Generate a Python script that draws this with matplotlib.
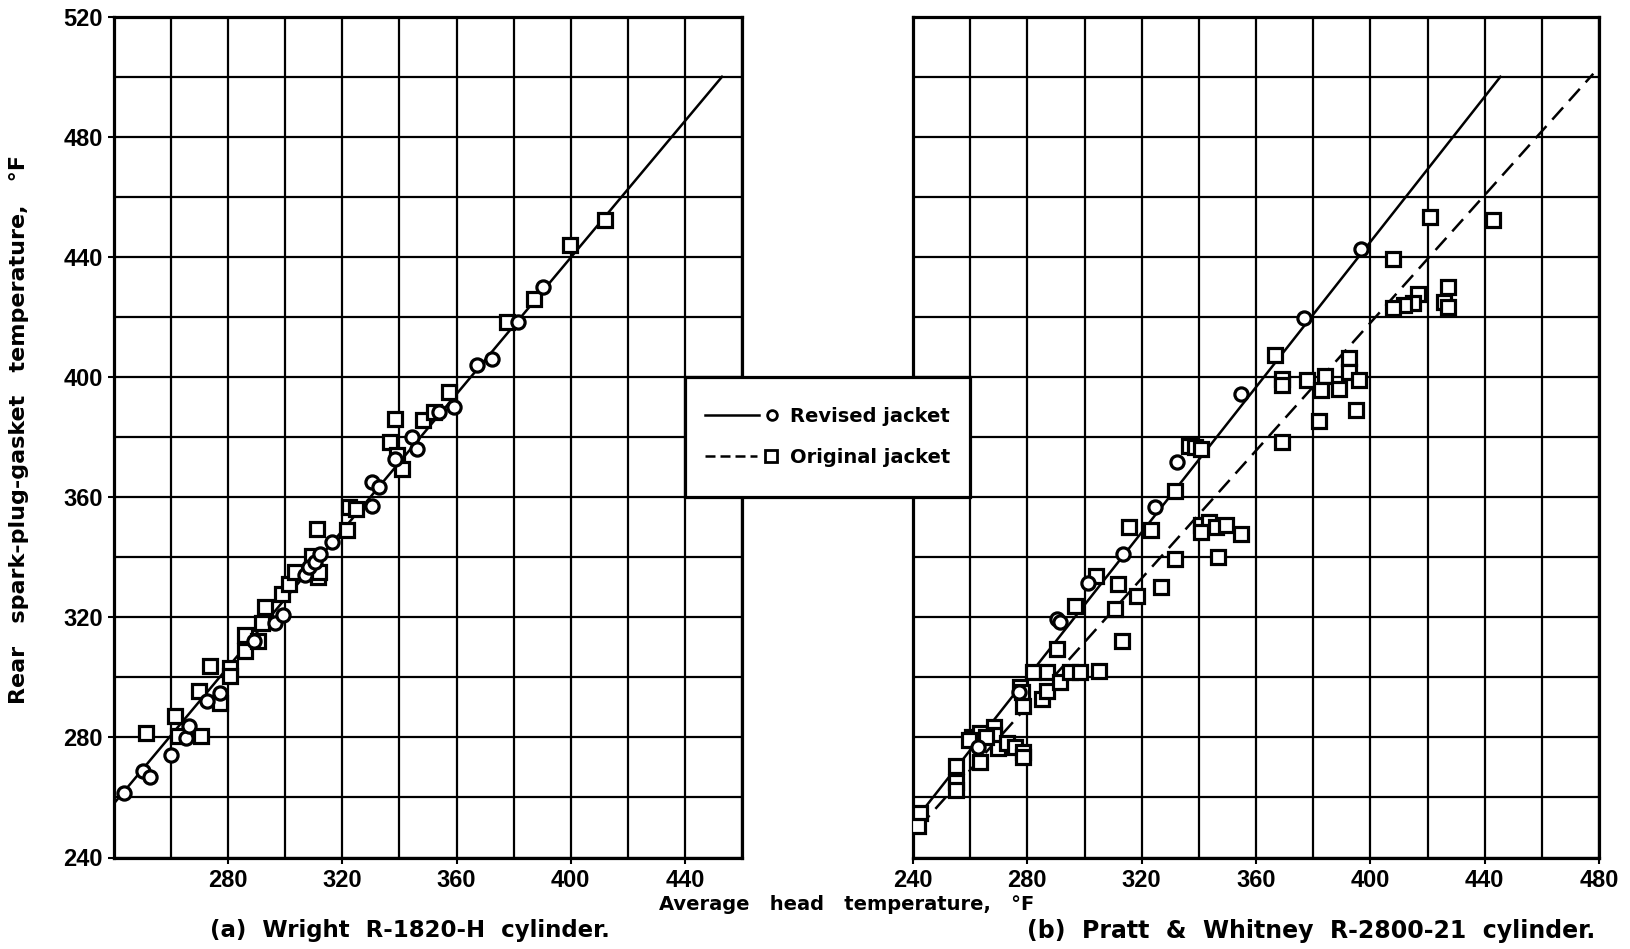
import matplotlib
matplotlib.use('Agg')
import matplotlib.pyplot as plt
from matplotlib.lines import Line2D
from matplotlib.patches import Rectangle
from matplotlib.legend_handler import HandlerBase

plt.rcParams['font.family'] = ['Liberation Sans', 'DejaVu Sans']
plt.rcParams['font.weight'] = 'bold'
LBL = ['DejaVu Sans']

# ---------------- data: panel (a) Wright R-1820-H ----------------
a_rev_x = [243.5, 250.2, 252.5, 259.8, 265.2, 266.4, 272.7, 277.3, 289.0, 296.4, 299.3,
           307.0, 308.2, 310.5, 312.3, 316.4, 330.4, 330.4, 332.7, 338.6, 344.4, 346.2,
           353.8, 359.1, 367.1, 372.3, 381.5, 390.4]
a_rev_y = [261.5, 268.7, 266.8, 274.0, 279.7, 283.9, 292.1, 294.9, 312.0, 318.0, 320.8,
           334.0, 336.7, 338.3, 341.1, 345.0, 356.9, 365.0, 363.3, 372.8, 380.0, 376.1,
           388.3, 390.0, 403.9, 406.1, 418.3, 430.0]
a_orig_x = [251.1, 261.5, 262.3, 270.4, 269.8, 277.3, 273.6, 280.8, 280.8, 286.0, 286.0,
            290.6, 291.8, 293.0, 298.8, 301.2, 303.5, 309.5, 311.5, 311.7, 311.1, 321.6,
            322.2, 324.8, 336.8, 339.2, 340.9, 338.6, 348.2, 352.0, 357.3, 377.5, 387.3,
            399.6, 411.9]
a_orig_y = [281.3, 287.2, 280.6, 280.6, 295.4, 291.6, 303.7, 303.1, 300.4, 308.7, 314.2,
            312.0, 318.0, 323.5, 327.8, 331.1, 335.0, 340.5, 333.5, 335.0, 349.4, 348.9,
            356.7, 356.1, 378.3, 373.9, 369.4, 386.1, 385.8, 388.3, 395.0, 418.3, 426.1,
            443.9, 452.4]
a_fit_x = [240, 453]
a_fit_y = [258, 500]

# ---------------- data: panel (b) Pratt & Whitney R-2800-21 ----------------
b_rev_x = [262.9, 277.0, 290.5, 291.5, 301.1, 313.6, 324.7, 332.4, 354.7, 376.9, 396.8]
b_rev_y = [276.8, 295.0, 319.5, 318.5, 331.4, 341.1, 356.7, 371.7, 394.4, 419.5, 442.8]
b_orig_x = [242.3, 241.9, 255.1, 255.1, 255.1, 260.6, 263.5, 268.2, 268.2, 269.9, 272.8,
            275.7, 278.6, 278.6, 263.5, 259.5, 265.5,
            277.5, 278.1, 278.6, 285.1, 286.8, 282.1, 286.8, 291.5, 295.0, 298.5, 304.9,
            290.3, 313.0,
            296.7, 310.8, 318.2, 326.8, 311.6, 304.0, 331.5, 346.7, 315.7, 323.3, 331.5,
            340.8, 343.7, 346.1, 349.6, 354.9, 340.8,
            336.5, 338.8, 340.6, 366.5, 369.0, 369.0, 377.8, 384.0, 382.8, 389.0, 382.2,
            369.2,
            420.7, 442.8, 407.8, 427.1, 425.9, 427.1, 416.6, 414.8, 411.9, 407.8, 392.7,
            392.7, 396.2, 395.0]
b_orig_y = [254.8, 250.4, 270.5, 265.3, 262.5, 280.2, 281.3, 283.5, 280.7, 276.3, 278.0,
            276.8, 275.2, 273.5, 271.9, 279.0, 280.0,
            296.7, 295.0, 290.6, 292.8, 295.6, 301.7, 301.7, 298.3, 301.7, 301.7, 302.0,
            309.6, 312.1,
            323.9, 322.6, 327.2, 330.0, 331.1, 333.9, 339.4, 340.0, 350.0, 348.9, 362.2,
            350.6, 351.7, 350.0, 350.6, 347.8, 348.3,
            377.2, 376.7, 376.1, 407.4, 399.5, 397.3, 399.0, 400.3, 395.7, 395.9, 385.5,
            378.3,
            453.3, 452.2, 439.2, 430.1, 425.1, 423.4, 427.8, 424.5, 424.0, 422.9, 406.2,
            401.8, 399.0, 389.0]
b_rev_fit_x = [242, 445.5]
b_rev_fit_y = [254, 500]
b_orig_fit_x = [242, 478]
b_orig_fit_y = [250, 501]

y_ticks = [240, 280, 320, 360, 400, 440, 480, 520]
a_xticks = [280, 320, 360, 400, 440]
b_xticks = [240, 280, 320, 360, 400, 440, 480]

labels = ['Revised jacket', 'Original jacket']

# ---------------- figure ----------------
W, H = 1630, 949
fig = plt.figure(figsize=(W / 100, H / 100), dpi=100)
top_px, bot_px = 16.7, 857.5
ax1 = fig.add_axes([114 / W, 1 - bot_px / H, (742 - 114) / W, (bot_px - top_px) / H])
ax2 = fig.add_axes([913 / W, 1 - bot_px / H, (1599 - 913) / W, (bot_px - top_px) / H])

DASH = (0, (6.5, 3.5))


def style(ax, xmin, xmax, xticks, ylabels):
    ax.set_xlim(xmin, xmax)
    ax.set_ylim(240, 520)
    ax.set_xticks(xticks)
    ax.set_xticks(range(xmin, xmax + 1, 20), minor=True)
    ax.set_yticks(y_ticks)
    ax.set_yticks(range(240, 521, 20), minor=True)
    ax.grid(which='both', color='black', lw=1.6, zorder=0)
    ax.set_axisbelow(True)
    for s in ax.spines.values():
        s.set_linewidth(2.3)
    ax.tick_params(which='major', length=4, width=1.5, labelsize=17, pad=4)
    ax.tick_params(which='minor', length=0)
    if not ylabels:
        ax.tick_params(axis='y', which='both', length=0, labelleft=False)
    for t in ax.get_xticklabels() + ax.get_yticklabels():
        t.set_fontweight('bold')


style(ax1, 240, 460, a_xticks, True)
style(ax2, 240, 480, b_xticks, False)

mk = dict(linestyle='none', mfc='white', mec='black', mew=2.3, zorder=4)
ax1.plot(a_fit_x, a_fit_y, color='black', lw=1.8, zorder=3)
ax1.plot(a_orig_x, a_orig_y, marker='s', ms=10, **mk)
ax1.plot(a_rev_x, a_rev_y, marker='o', ms=9.5, **mk)

ax2.plot(b_rev_fit_x, b_rev_fit_y, color='black', lw=1.8, zorder=3)
ax2.plot(b_orig_fit_x, b_orig_fit_y, color='black', lw=1.8, linestyle=DASH, zorder=3)
ax2.plot(b_orig_x, b_orig_y, marker='s', ms=10, **mk)
ax2.plot(b_rev_x, b_rev_y, marker='o', ms=9.5, **mk)

# ---------------- legend box bridging the two panels ----------------
inv = fig.transFigure.inverted()
p1 = inv.transform(ax1.transData.transform((440, 400)))
p2 = inv.transform(ax2.transData.transform((260, 360)))
rect = Rectangle((p1[0], p2[1]), p2[0] - p1[0], p1[1] - p2[1], transform=fig.transFigure,
                 facecolor='white', edgecolor='black', lw=2.3, zorder=10)
fig.add_artist(rect)


class LineThenMarker(HandlerBase):
    def create_artists(self, legend, orig_handle, xdescent, ydescent, width, height,
                       fontsize, trans):
        y = (height - ydescent) / 2.0
        ms = orig_handle.get_markersize()
        xm = width - xdescent - ms / 2.0
        line = Line2D([-xdescent, xm - ms / 2.0 - 6.0], [y, y])
        line.update_from(orig_handle)
        line.set_marker('None')
        mark = Line2D([xm], [y], linestyle='none', marker=orig_handle.get_marker(), ms=ms,
                      mfc='white', mec='black', mew=orig_handle.get_markeredgewidth())
        line.set_transform(trans)
        mark.set_transform(trans)
        return [line, mark]


h_rev = Line2D([], [], color='black', lw=1.8, linestyle='-', marker='o', ms=7, mew=2)
h_orig = Line2D([], [], color='black', lw=1.8, linestyle=(0, (4, 2)), marker='s', ms=8, mew=2)
leg = fig.legend([h_rev, h_orig], labels, loc='center',
                 bbox_to_anchor=((p1[0] + p2[0]) / 2, (p1[1] + p2[1]) / 2),
                 frameon=False, prop={'family': LBL, 'weight': 'bold', 'size': 14},
                 handler_map={Line2D: LineThenMarker()},
                 handlelength=3.7, handletextpad=0.7, labelspacing=1.15)
leg.set_zorder(11)

# ---------------- texts ----------------
fig.text(19 / W, 1 - 430 / H, 'Rear   spark-plug-gasket   temperature,   °F', rotation=90,
         ha='center', va='center', fontsize=16, fontweight='bold', family=LBL)
fig.text(847 / W, 1 - 905 / H, 'Average   head   temperature,   °F', ha='center',
         va='center', fontsize=14, fontweight='bold', family=LBL)
fig.text(410 / W, 1 - 931 / H, '(a)  Wright  R-1820-H  cylinder.', ha='center',
         va='center', fontsize=16.5, fontweight='bold', family=LBL)
fig.text(1311 / W, 1 - 931 / H, '(b)  Pratt  &  Whitney  R-2800-21  cylinder.', ha='center',
         va='center', fontsize=17, fontweight='bold', family=LBL)

fig.savefig('out.png', dpi=100, facecolor='white')
